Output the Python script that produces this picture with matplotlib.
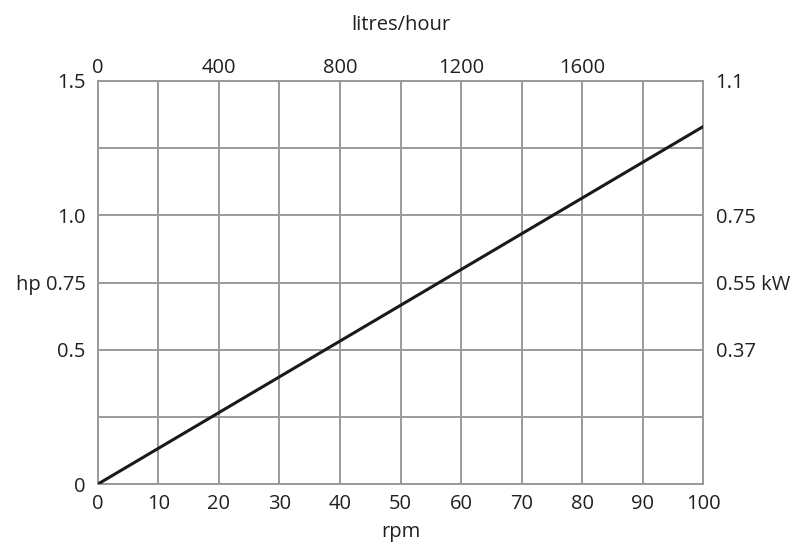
import matplotlib
matplotlib.use("Agg")
import matplotlib.pyplot as plt

# Data
rpm = [0, 100]
hp = [0, 1.33]

x_ticks = [0, 10, 20, 30, 40, 50, 60, 70, 80, 90, 100]
y_grid = [0, 0.25, 0.5, 0.75, 1.0, 1.25, 1.5]
y_left_ticks = [0, 0.5, 0.75, 1.0, 1.5]
y_left_labels = ["0", "0.5", "hp 0.75", "1.0", "1.5"]
y_right_ticks = [0.5, 0.75, 1.0, 1.5]
y_right_labels = ["0.37", "0.55 kW", "0.75", "1.1"]
top_ticks = [0, 400, 800, 1200, 1600]
top_max = 2000

plt.rcParams['font.family'] = ['Open Sans', 'DejaVu Sans']
FS = 14.5
GRID = '#9a9a9a'
TXT = '#231f20'

fig = plt.figure(figsize=(7.96, 5.45), dpi=100)
ax = fig.add_axes([0.1231, 0.1119, 0.7601, 0.7395])

ax.plot(rpm, hp, color='#1a1a1a', lw=2.2, solid_capstyle='round', zorder=3)
ax.set_xlim(0, 100)
ax.set_ylim(0, 1.5)

for x in x_ticks:
    ax.axvline(x, color=GRID, lw=1.4, zorder=1)
for y in y_grid:
    ax.axhline(y, color=GRID, lw=1.4, zorder=1)

for s in ax.spines.values():
    s.set_color(GRID)
    s.set_linewidth(1.4)

ax.set_xticks(x_ticks)
ax.set_xticklabels([str(v) for v in x_ticks])
ax.set_yticks(y_left_ticks)
ax.set_yticklabels(y_left_labels)
ax.tick_params(axis='both', length=0, labelsize=FS, colors=TXT, pad=9)
ax.tick_params(axis='x', pad=7)
ax.set_xlabel('rpm', fontsize=FS, color=TXT, labelpad=6)

axr = ax.twinx()
axr.set_ylim(0, 1.5)
axr.set_yticks(y_right_ticks)
axr.set_yticklabels(y_right_labels)
axr.tick_params(axis='y', length=0, labelsize=FS, colors=TXT, pad=9)
for s in axr.spines.values():
    s.set_visible(False)

axt = ax.twiny()
axt.set_xlim(0, top_max)
axt.set_xticks(top_ticks)
axt.set_xticklabels([str(v) for v in top_ticks])
axt.tick_params(axis='x', length=0, labelsize=FS, colors=TXT, pad=2)
axt.set_xlabel('litres/hour', fontsize=FS, color=TXT, labelpad=20)
for s in axt.spines.values():
    s.set_visible(False)

fig.savefig('out.png', dpi=100)
